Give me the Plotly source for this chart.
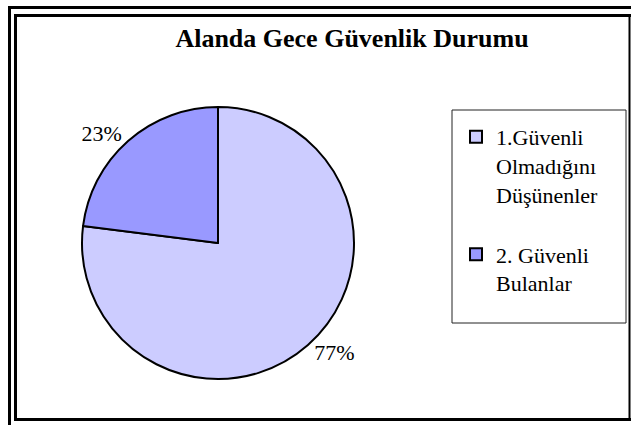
import plotly.graph_objects as go

# chart data
labels = ["1.Güvenli<br>Olmadığını<br>Düşünenler<br> ", "2. Güvenli<br>Bulanlar"]
values = [77, 23]
colors = ["#CCCCFF", "#9999FF"]
title = "Alanda Gece Güvenlik Durumu"

W, H = 631, 425
FONT = "Liberation Serif, Times New Roman, serif"


def px_x(x):
    return x / W


def px_y(y):
    return 1 - y / H


fig = go.Figure(
    go.Pie(
        labels=labels,
        values=values,
        sort=False,
        direction="clockwise",
        rotation=0,
        marker=dict(colors=colors, line=dict(color="black", width=2)),
        textposition="outside",
        texttemplate="%{percent:.0%}",
        textfont=dict(family=FONT, size=22, color="black"),
        domain=dict(x=[px_x(218 - 136), px_x(218 + 136)], y=[px_y(243 + 136), px_y(243 - 136)]),
        hoverinfo="label+percent",
    )
)

# frame lines and legend box
frame = dict(type="line", xref="paper", yref="paper", line=dict(color="black", width=3))
shapes = [
    dict(frame, x0=px_x(8), x1=px_x(631), y0=px_y(7.5), y1=px_y(7.5)),
    dict(frame, x0=px_x(9.5), x1=px_x(9.5), y0=px_y(6), y1=px_y(425)),
    dict(frame, x0=px_x(14), x1=px_x(631), y0=px_y(15.5), y1=px_y(15.5)),
    dict(frame, x0=px_x(15.5), x1=px_x(15.5), y0=px_y(14), y1=px_y(421)),
    dict(frame, x0=px_x(14), x1=px_x(631), y0=px_y(419.5), y1=px_y(419.5)),
    dict(type="line", xref="paper", yref="paper", x0=px_x(629.5), x1=px_x(629.5),
         y0=px_y(14), y1=px_y(421), line=dict(color="black", width=2)),
    dict(type="rect", xref="paper", yref="paper", x0=px_x(452), x1=px_x(626),
         y0=px_y(110), y1=px_y(323), line=dict(color="#222222", width=1)),
]

fig.update_layout(
    width=W,
    height=H,
    margin=dict(l=0, r=0, t=0, b=0),
    paper_bgcolor="white",
    plot_bgcolor="white",
    font=dict(family=FONT, color="black"),
    title=dict(
        text=title,
        x=px_x(352),
        y=px_y(38),
        xanchor="center",
        yanchor="middle",
        font=dict(family=FONT, size=26, color="black", weight="bold"),
    ),
    legend=dict(
        x=px_x(456),
        y=px_y(116),
        xanchor="left",
        yanchor="top",
        valign="top",
        bgcolor="rgba(0,0,0,0)",
        borderwidth=0,
        font=dict(family=FONT, size=22, color="black"),
        itemwidth=30,
    ),
    shapes=shapes,
    showlegend=True,
)

fig.write_html("out.html", config={"displayModeBar": False},
               post_script="document.body.style.margin='0';")
